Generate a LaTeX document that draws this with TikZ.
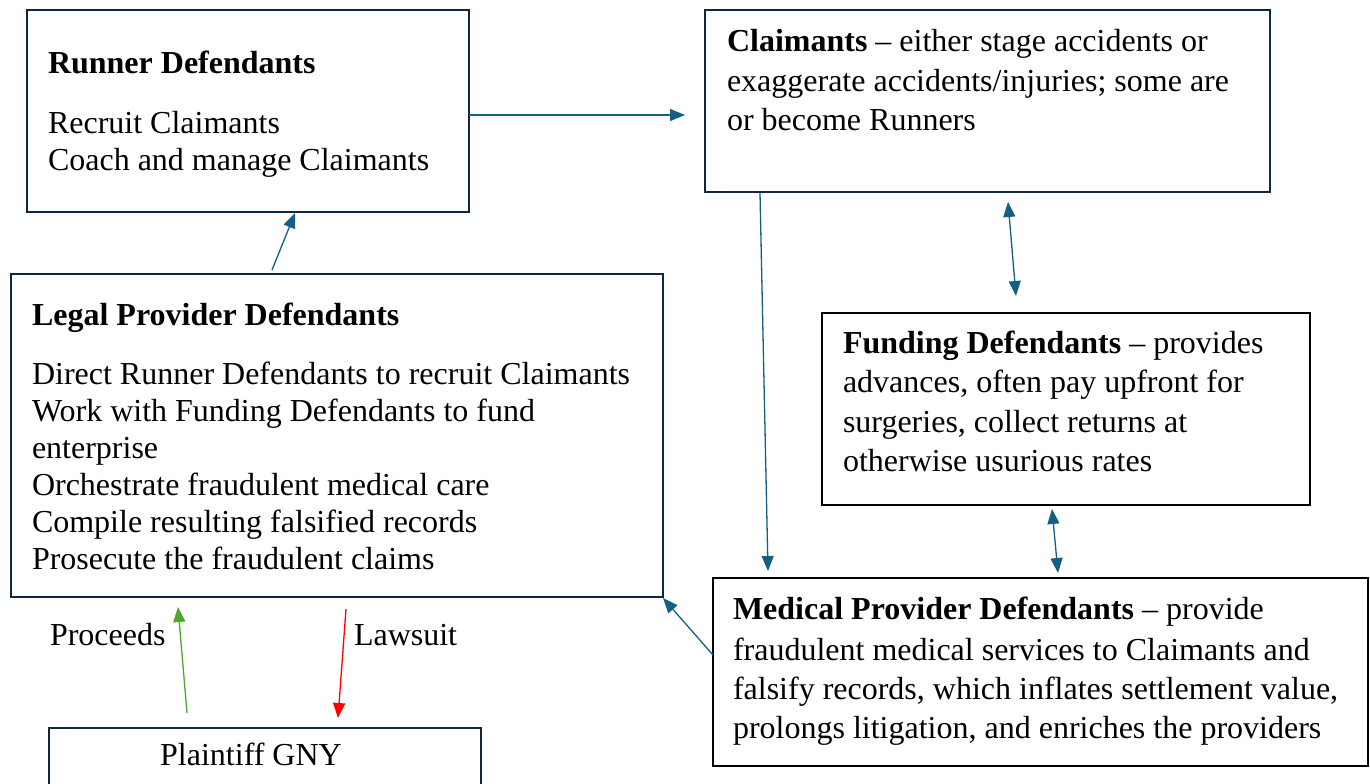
\documentclass[tikz,border=0pt]{standalone}
\usepackage{fontspec}
\setmainfont{Liberation Serif}
\usetikzlibrary{arrows.meta,calc}
\definecolor{navy}{HTML}{0E2841}
\definecolor{arrblue}{HTML}{156082}
\definecolor{pgreen}{HTML}{4EA72E}
\definecolor{pred}{HTML}{FF0000}
\tikzset{
  boxbase/.style={draw, rectangle, line width=2.5pt, inner sep=0pt, outer sep=0pt, anchor=north west},
  navybox/.style={boxbase, draw=navy},
  blackbox/.style={boxbase, draw=black},
  txt/.style={anchor=base west, inner sep=0pt, outer sep=0pt, font=\fontsize{32}{37}\selectfont},
  ctxt/.style={anchor=base, inner sep=0pt, outer sep=0pt, font=\fontsize{32}{37}\selectfont},
  arr/.style={draw=arrblue, line width=1.3pt, -{Triangle[length=15pt,width=12pt]}, color=arrblue},
  darr/.style={draw=arrblue, line width=1.3pt, {Triangle[length=15pt,width=12pt]}-{Triangle[length=15pt,width=12pt]}, color=arrblue},
  garr/.style={draw=pgreen, line width=1.3pt, -{Triangle[length=15pt,width=12pt]}, color=pgreen},
  rarr/.style={draw=pred, line width=1.3pt, -{Triangle[length=15pt,width=12pt]}, color=pred},
}
\begin{document}
\begin{tikzpicture}[x=1pt,y=-1pt]
\useasboundingbox[fill=white] (0,0) rectangle (1370,784);
% boxes
\node[navybox, minimum width=442pt, minimum height=202pt] (runner) at (27,10) {};
\node[navybox, minimum width=565pt, minimum height=182pt] (claim) at (705,10) {};
\node[navybox, minimum width=652pt, minimum height=323pt] (legal) at (11,274) {};
\node[blackbox, minimum width=488pt, minimum height=192pt] (fund) at (822,313) {};
\node[blackbox, minimum width=655pt, minimum height=188pt] (med) at (713,578) {};
\node[navybox, minimum width=432pt, minimum height=80pt] (plain) at (49,728) {};
% runner text
\node[txt] (r1) at (48,74) {\textbf{Runner Defendants}};
\node[txt] (r2) at (48,133) {Recruit Claimants};
\node[txt] (r3) at (48,170) {Coach and manage Claimants};
% claimants text
\node[txt] (c1) at (727,52) {\textbf{Claimants} -- either stage accidents or};
\node[txt] (c2) at (727,91) {exaggerate accidents/injuries; some are};
\node[txt] (c3) at (727,130) {or become Runners};
% legal text
\node[txt] (l0) at (32,325) {\textbf{Legal Provider Defendants}};
\node[txt] (l1) at (32,384) {Direct Runner Defendants to recruit Claimants};
\node[txt] (l2) at (32,421) {Work with Funding Defendants to fund};
\node[txt] (l3) at (32,458) {enterprise};
\node[txt] (l4) at (32,495) {Orchestrate fraudulent medical care};
\node[txt] (l5) at (32,532) {Compile resulting falsified records};
\node[txt] (l6) at (32,569) {Prosecute the fraudulent claims};
% funding text
\node[txt] (f1) at (843,353) {\textbf{Funding Defendants} -- provides};
\node[txt] (f2) at (843,392) {advances, often pay upfront for};
\node[txt] (f3) at (843,432) {surgeries, collect returns at};
\node[txt] (f4) at (843,471) {otherwise usurious rates};
% medical text
\node[txt] (m1) at (733,619) {\textbf{Medical Provider Defendants} -- provide};
\node[txt] (m2) at (733,660) {fraudulent medical services to Claimants and};
\node[txt] (m3) at (733,699) {falsify records, which inflates settlement value,};
\node[txt] (m4) at (733,738) {prolongs litigation, and enriches the providers};
% plaintiff
\node[ctxt] (p1) at (251,765) {Plaintiff GNY};
\node[txt] (proc) at (50,645) {Proceeds};
\node[txt] (laws) at (354,645) {Lawsuit};
% connectors
\draw[arr] ($(runner.north east)+(0,105)$) -- ($(claim.north west)+(-20,105)$);
\draw[arr] ($(legal.north west)+(261,-4)$) -- ($(runner.south west)+(268,1)$);
\draw[arr] ($(claim.south west)+(55,1)$) -- ($(med.north west)+(55,-7)$);
\draw[darr] ($(claim.south west)+(303,10)$) -- ($(fund.north west)+(194,-17)$);
\draw[darr] ($(fund.south west)+(230,4)$) -- ($(med.north west)+(345,-5)$);
\draw[arr] ($(med.north west)+(0,77)$) -- ($(legal.south east)+(0,1)$);
\draw[garr] ($(plain.north west)+(138,-15)$) -- ($(legal.south west)+(167,10)$);
\draw[rarr] ($(legal.south west)+(335,12)$) -- ($(plain.north west)+(289,-10)$);
\end{tikzpicture}
\end{document}
